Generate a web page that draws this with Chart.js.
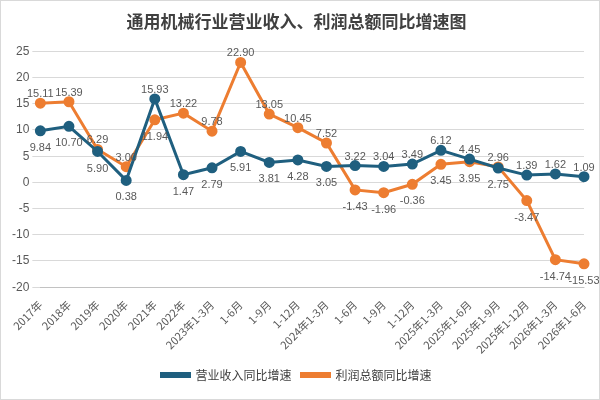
<!DOCTYPE html><html><head><meta charset="utf-8"><script src="https://cdn.jsdelivr.net/npm/chart.js@4"></script>
<style>body{margin:0;background:#fff}#w{width:598px;height:398px;border:1px solid #d9d9d9}</style></head><body><div id="w"><canvas id="c"></canvas></div>
<script>
const categories=["2017年","2018年","2019年","2020年","2021年","2022年","2023年1-3月","1-6月","1-9月","1-12月","2024年1-3月","1-6月","1-9月","1-12月","2025年1-3月","2025年1-6月","2025年1-9月","2025年1-12月","2026年1-3月","2026年1-6月"];
const revenue=[9.84,10.70,5.9,0.38,15.93,1.47,2.79,5.91,3.81,4.28,3.05,3.22,3.04,3.49,6.12,4.45,2.75,1.39,1.62,1.09];
const profit=[15.11,15.39,6.29,3.0,11.94,13.22,9.78,22.90,13.05,10.45,7.52,-1.43,-1.96,-0.36,3.45,3.95,2.96,-3.47,-14.74,-15.53];
const yTicks={min:-20,max:25,step:5};
const lbl={id:'lbl',afterDatasetsDraw(ch){const c=ch.ctx;c.save();c.font='11px "Liberation Sans"';c.fillStyle='#595959';c.textAlign='center';
ch.data.datasets.forEach((d,i)=>{ch.getDatasetMeta(i).data.forEach((p,j)=>{const o=ch.data.datasets[1-i].data[j];const up=d.data[j]>=o;c.fillText(d.data[j].toFixed(2),p.x,up?p.y-9:p.y+17);});});c.restore();}};
new Chart(document.getElementById('c'),{type:'line',data:{labels:categories,datasets:[
{label:'营业收入同比增速',data:revenue,borderColor:'#1f5f7f',backgroundColor:'#1f5f7f',borderWidth:3,pointRadius:4,tension:0},
{label:'利润总额同比增速',data:profit,borderColor:'#ed7d31',backgroundColor:'#ed7d31',borderWidth:3,pointRadius:4,tension:0}]},
options:{responsive:true,maintainAspectRatio:false,animation:false,layout:{padding:{right:15,left:8,bottom:8}},
plugins:{title:{display:true,text:'通用机械行业营业收入、利润总额同比增速图',font:{size:17,weight:'bold',family:'"Noto Sans CJK SC"'},color:'#404040',padding:{top:10,bottom:20}},
legend:{position:'bottom',labels:{boxWidth:28,boxHeight:3,font:{size:12,family:'"Noto Sans CJK SC"'},color:'#404040'}},tooltip:{enabled:false}},
scales:{x:{grid:{display:false},ticks:{maxRotation:45,minRotation:45,autoSkip:false,color:'#595959',font:{size:11,family:'"Noto Sans CJK SC"'}}},
y:{min:yTicks.min,max:yTicks.max,ticks:{stepSize:yTicks.step,color:'#595959',font:{size:12}},grid:{color:'#d9d9d9'},border:{display:false}}}},plugins:[lbl]});
</script></body></html>
